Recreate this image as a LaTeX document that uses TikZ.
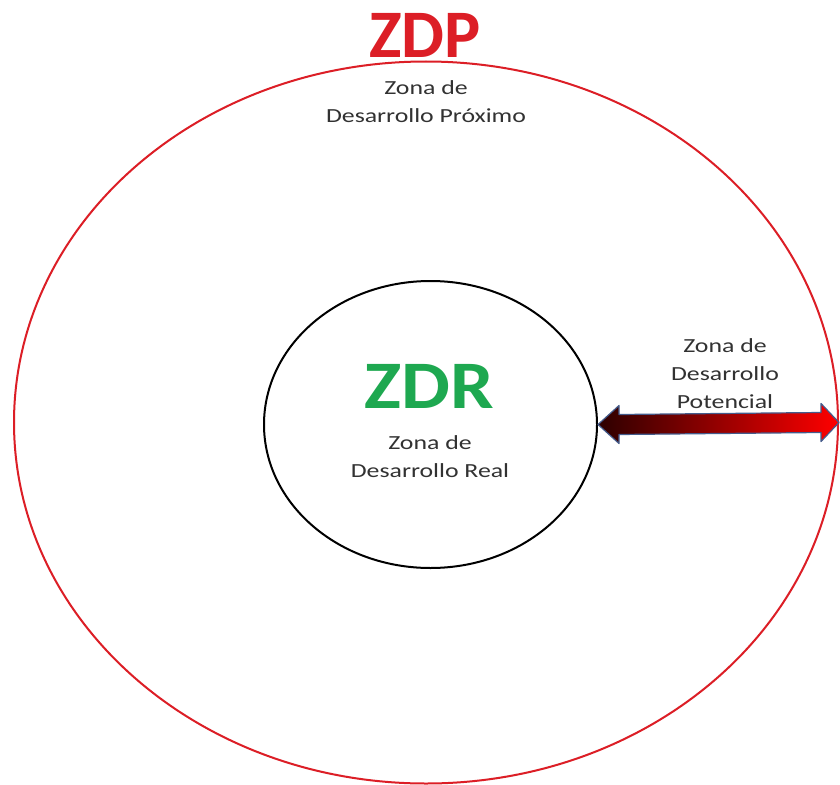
\documentclass[tikz,border=0pt]{standalone}
\usepackage{fontspec}
\setmainfont{Carlito}
\newfontfamily\bodyfont[FakeStretch=1.29]{Carlito}
\newfontfamily\zdrfont[FakeStretch=1.14]{Carlito}
\usetikzlibrary{shapes.geometric}
\definecolor{zdpred}{RGB}{220,30,38}
\definecolor{zdrgreen}{RGB}{30,168,80}
\definecolor{txtgray}{RGB}{50,50,50}
\definecolor{arrowedge}{RGB}{68,92,140}
\definecolor{arrowdark}{RGB}{45,0,0}
\tikzset{
  bigtitle/.style={font=\bfseries\fontsize{68}{70}\selectfont, inner sep=0pt},
  label/.style={font=\bodyfont\fontsize{20}{28}\selectfont, text=txtgray, align=center, inner sep=0pt},
  zone/.style={ellipse, draw, line width=2pt, inner sep=0pt}
}
\begin{document}
\begin{tikzpicture}[x=1pt,y=-1pt]
\useasboundingbox (0,0) rectangle (840,784);
\fill[white] (0,0) rectangle (840,784);
\node[zone, draw=zdpred, minimum width=824pt, minimum height=722pt] (outer) at (426,422.5) {};
\node[zone, draw=black, minimum width=333pt, minimum height=287pt] (inner) at (430.5,424.5) {};
\node[bigtitle, text=zdpred] (zdp) at (425,35) {ZDP};
\node[label] (zdptxt) at (426,102) {Zona de\\Desarrollo Próximo};
\node[bigtitle, font=\zdrfont\bfseries\fontsize{68}{70}\selectfont, text=zdrgreen] (zdr) at (429,386) {ZDR};
\node[label] (zdrtxt) at (430,457) {Zona de\\Desarrollo Real};
\node[label] (pottxt) at (725,373.5) {Zona de\\Desarrollo\\Potencial};
\coordinate (L) at (inner.east);
\coordinate (R) at (outer.east);
\shade[left color=arrowdark, right color=red, draw=arrowedge, line width=1.2pt, line join=round]
  (L) -- ([xshift=21pt,yshift=-19pt]L) -- ([xshift=21pt,yshift=-10pt]L)
  -- ([xshift=-18pt,yshift=-10pt]R) -- ([xshift=-18pt,yshift=-19pt]R)
  -- (R) -- ([xshift=-18pt,yshift=19pt]R) -- ([xshift=-18pt,yshift=10pt]R)
  -- ([xshift=21pt,yshift=10pt]L) -- ([xshift=21pt,yshift=19pt]L) -- cycle;
\end{tikzpicture}
\end{document}
